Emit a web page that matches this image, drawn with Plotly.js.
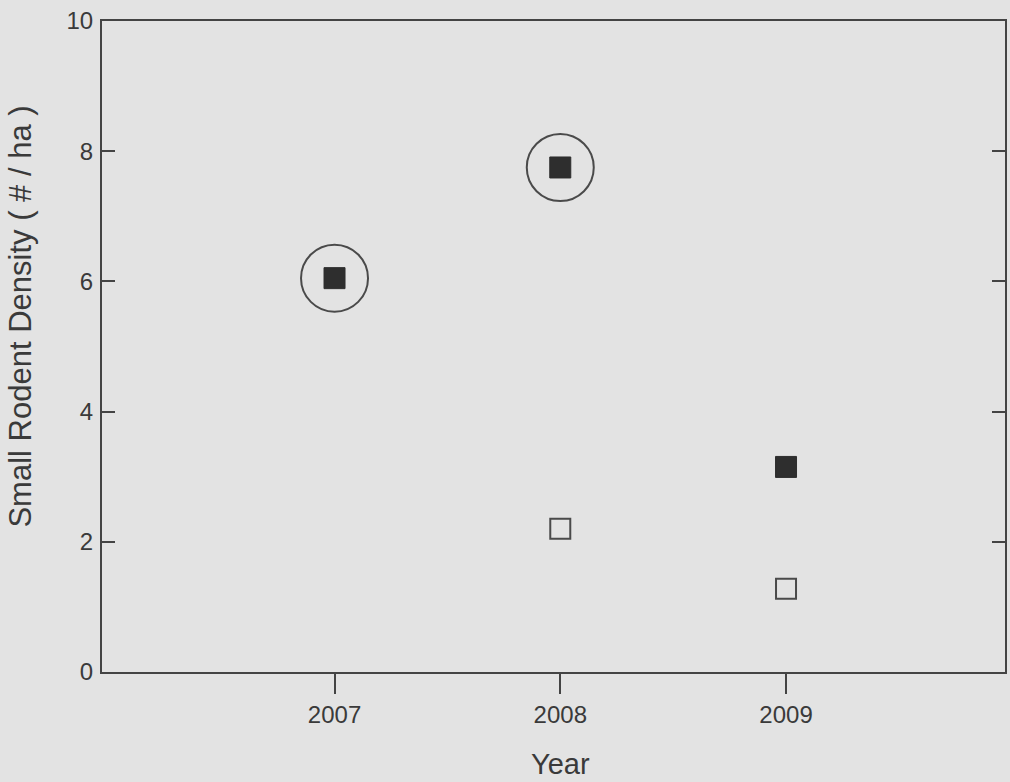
<!DOCTYPE html>
<html>
<head>
<meta charset="utf-8">
<script src="https://cdn.plot.ly/plotly-3.0.1.min.js"></script>
<style>html,body{margin:0;padding:0;background:#e3e3e3;}#chart{width:1010px;height:782px;}</style>
</head>
<body>
<div id="chart"></div>
<script>
// Data
const filledYears = [2007, 2008, 2009];
const filledDensity = [6.05, 7.75, 3.15];
const openYears = [2008, 2009];
const openDensity = [2.2, 1.28];
const circledYears = [2007, 2008];
const circledDensity = [6.05, 7.75];
const xTickVals = [2007, 2008, 2009];
const xTickText = ['2007', '2008', '2009'];
const yTickVals = [0, 2, 4, 6, 8, 10];
const xTitle = 'Year';
const yTitle = 'Small Rodent Density ( # / ha )';

const axisColor = '#444';
const textColor = '#3a3a3a';

const traces = [
  {
    x: filledYears, y: filledDensity, type: 'scatter', mode: 'markers',
    marker: {symbol: 'square', size: 21, color: '#2e2e2e', line: {color: '#2e2e2e', width: 1}},
    hoverinfo: 'x+y', showlegend: false
  },
  {
    x: openYears, y: openDensity, type: 'scatter', mode: 'markers',
    marker: {symbol: 'square-open', size: 20, color: '#4a4a4a', line: {color: '#4a4a4a', width: 2}},
    hoverinfo: 'x+y', showlegend: false
  },
  {
    x: circledYears, y: circledDensity, type: 'scatter', mode: 'markers',
    marker: {symbol: 'circle-open', size: 67, color: '#4a4a4a', line: {color: '#4a4a4a', width: 2}},
    hoverinfo: 'skip', showlegend: false
  }
];

const layout = {
  width: 1010, height: 782,
  paper_bgcolor: '#e3e3e3', plot_bgcolor: '#e3e3e3',
  margin: {l: 102, r: 5, t: 21, b: 110},
  font: {family: 'Liberation Sans, Arial, sans-serif', color: textColor, size: 24},
  xaxis: {
    range: [2005.97, 2009.97],
    tickvals: xTickVals, ticktext: xTickText,
    ticks: 'outside', ticklen: 20, tickwidth: 2, tickcolor: axisColor,
    showline: true, linecolor: axisColor, linewidth: 2, mirror: true,
    showgrid: false, zeroline: false,
    tickfont: {size: 24, color: textColor}
  },
  yaxis: {
    range: [0, 10],
    tickvals: yTickVals,
    ticks: 'inside', ticklen: 13, tickwidth: 2, tickcolor: axisColor,
    showline: true, linecolor: axisColor, linewidth: 2, mirror: 'ticks',
    showgrid: false, zeroline: false,
    tickfont: {size: 24, color: textColor},
    ticklabelstandoff: 2
  },
  annotations: [
    {text: xTitle, xref: 'paper', yref: 'paper', x: 0.508, y: -0.1413,
     xanchor: 'center', yanchor: 'middle', showarrow: false,
     font: {size: 29, color: textColor}},
    {text: yTitle, xref: 'paper', yref: 'paper', x: -0.0897, y: 0.546,
     xanchor: 'center', yanchor: 'middle', showarrow: false, textangle: -90,
     font: {size: 31, color: textColor}}
  ]
};

Plotly.newPlot('chart', traces, layout, {displayModeBar: false, staticPlot: true});
</script>
</body>
</html>
